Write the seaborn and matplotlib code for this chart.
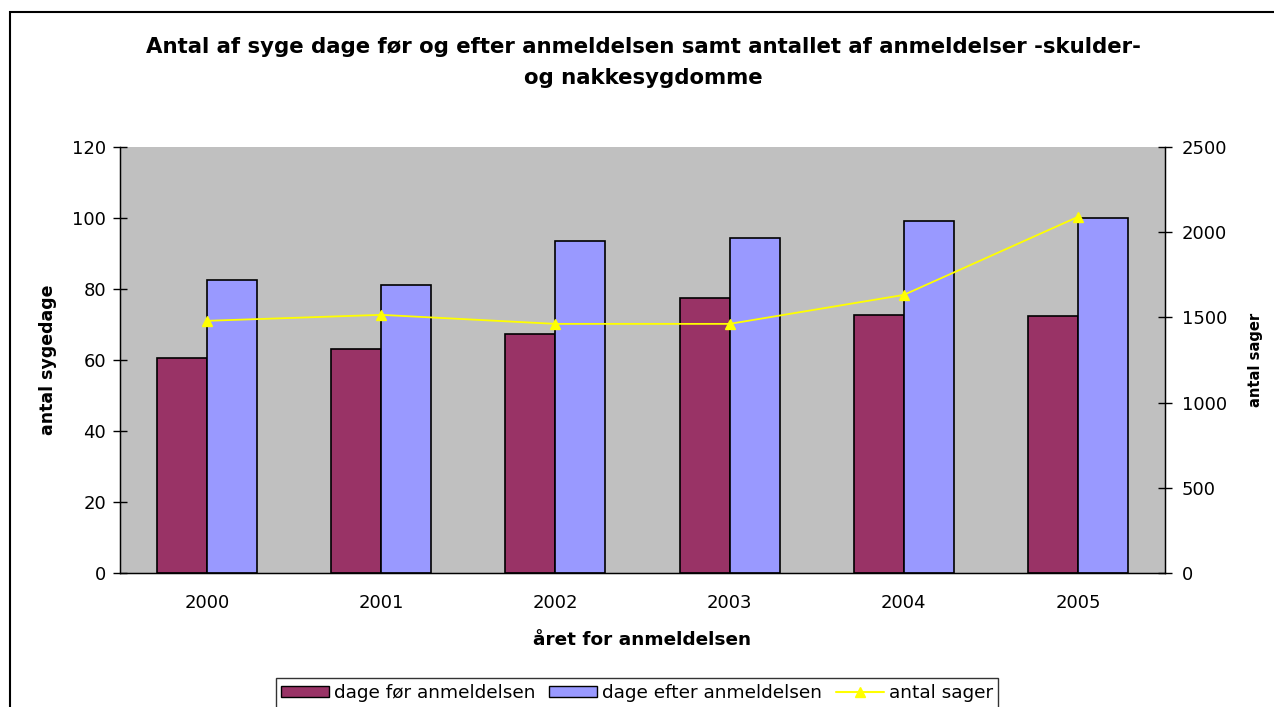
import numpy as np
import pandas as pd
import matplotlib
matplotlib.use("Agg")
import matplotlib.pyplot as plt
import seaborn as sns
from matplotlib.patches import Rectangle, Patch
from matplotlib.lines import Line2D

# Data
years = ["2000", "2001", "2002", "2003", "2004", "2005"]
dage_foer = [60.5, 63.0, 67.3, 77.5, 72.7, 72.3]
dage_efter = [82.5, 81.2, 93.6, 94.4, 99.2, 100.0]
antal_sager = [1480, 1515, 1462, 1462, 1632, 2090]

label_foer = "dage før anmeldelsen"
label_efter = "dage efter anmeldelsen"
label_sager = "antal sager"

df = pd.DataFrame({
    "år": years * 2,
    "dage": dage_foer + dage_efter,
    "serie": [label_foer] * len(years) + [label_efter] * len(years),
})

sns.set_style("white")
plt.rcParams["font.family"] = ["DejaVu Sans"]
plt.rcParams["text.color"] = "black"
plt.rcParams["axes.labelcolor"] = "black"
plt.rcParams["xtick.color"] = "black"
plt.rcParams["ytick.color"] = "black"

fig = plt.figure(figsize=(12.74, 7.07), dpi=100)
ax = fig.add_axes([120 / 1274, 1 - 573 / 707, 1045 / 1274, 426 / 707])
ax.set_facecolor("#C0C0C0")

sns.barplot(data=df, x="år", y="dage", hue="serie", ax=ax,
            palette=["#993366", "#9999FF"], width=0.575,
            edgecolor="black", linewidth=1.2, saturation=1, legend=False)

ax2 = ax.twinx()
sns.pointplot(x=years, y=antal_sager, ax=ax2, color="#FFFF00",
              markers="^", markersize=7, linewidth=1.3, errorbar=None)

ax.set_xlim(-0.5, 5.5)
ax.set_ylim(0, 120)
ax.set_yticks(np.arange(0, 121, 20))
ax2.set_ylim(0, 2500)
ax2.set_yticks(np.arange(0, 2501, 500))

ax.spines["top"].set_visible(False)
ax2.spines["top"].set_visible(False)
for s in ["left", "right", "bottom"]:
    ax2.spines[s].set_color("black")
    ax2.spines[s].set_linewidth(1)
ax.spines["left"].set_color("black")
ax.spines["bottom"].set_color("black")

ax.tick_params(axis="y", direction="inout", length=10, width=1, labelsize=13, pad=5)
ax2.tick_params(axis="y", direction="inout", length=10, width=1, labelsize=13, pad=7)
ax.set_xticks(np.arange(-0.5, 5.6, 1), minor=True)
ax.tick_params(axis="x", which="major", length=0, labelsize=13, pad=15)
ax.tick_params(axis="x", which="minor", direction="inout", length=10, width=1)

ax.set_xlabel("året for anmeldelsen", fontsize=13.3, fontweight="bold", labelpad=14)
ax.set_ylabel("antal sygedage", fontsize=12.5, fontweight="bold", labelpad=11)
ax2.set_ylabel("antal sager", fontsize=10.6, fontweight="bold", labelpad=15)

fig.text(0.505, 1 - 47 / 707, "Antal af syge dage før og efter anmeldelsen samt antallet af anmeldelser -skulder-",
         ha="center", va="center", fontsize=15.3, fontweight="bold")
fig.text(0.505, 1 - 78 / 707, "og nakkesygdomme",
         ha="center", va="center", fontsize=15.3, fontweight="bold")

# outer chart border
fig.patches.append(Rectangle((10 / 1274, -0.05), 1.2, 1 - 12 / 707 + 0.05,
                             transform=fig.transFigure, fill=False,
                             edgecolor="black", linewidth=1.5, clip_on=False))

handles = [
    Patch(facecolor="#993366", edgecolor="black", label=label_foer),
    Patch(facecolor="#9999FF", edgecolor="black", label=label_efter),
    Line2D([0], [0], color="#FFFF00", marker="^", markersize=7, label=label_sager),
]
leg = fig.legend(handles=handles, loc="center", bbox_to_anchor=(637 / 1274, 1 - 693 / 707),
                 ncol=3, fontsize=13.3, frameon=True, fancybox=False,
                 edgecolor="black", handlelength=2.6, handleheight=0.6,
                 columnspacing=0.75, handletextpad=0.25, borderpad=0.3,
                 borderaxespad=0)
leg.get_frame().set_linewidth(1)

fig.savefig("out.png", dpi=100, facecolor="white")
